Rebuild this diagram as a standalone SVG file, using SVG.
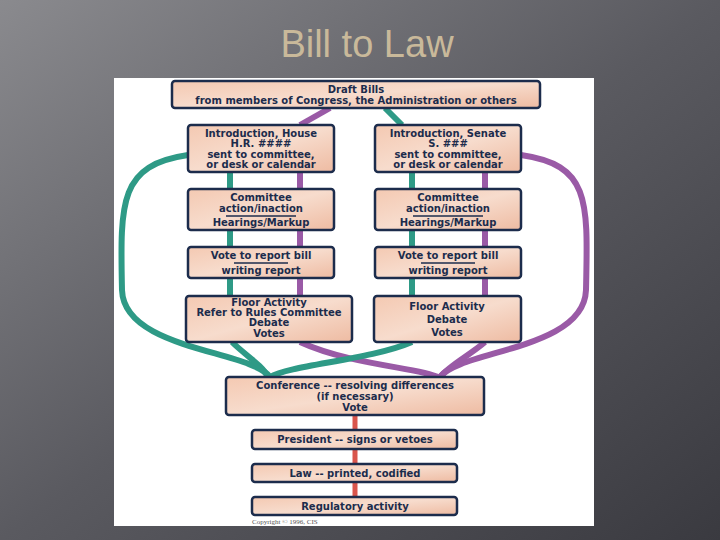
<svg xmlns="http://www.w3.org/2000/svg" width="720" height="540" viewBox="0 0 720 540">
<defs>
<linearGradient id="bg" x1="0" y1="0" x2="1" y2="1">
<stop offset="0" stop-color="#8a8a8e"/><stop offset="0.5" stop-color="#5a5a60"/><stop offset="1" stop-color="#3a3a40"/>
</linearGradient>
<linearGradient id="bx" x1="0" y1="0" x2="1" y2="1">
<stop offset="0" stop-color="#f4c9b2"/><stop offset="0.5" stop-color="#f7dccd"/><stop offset="1" stop-color="#eebba2"/>
</linearGradient>
</defs>
<style>
.b{fill:url(#bx);stroke:#1c2c4c;stroke-width:2.5}
.t{font-family:"DejaVu Sans",sans-serif;font-weight:bold;font-size:10px;fill:#1c2c4c;text-anchor:middle}
.g{fill:none;stroke:#2e9a86;stroke-width:6}
.p{fill:none;stroke:#9a5aa6;stroke-width:6}
.r{fill:none;stroke:#d9554c;stroke-width:5}
</style>
<rect width="720" height="540" fill="url(#bg)"/>
<text x="367" y="57" font-family="Liberation Sans,sans-serif" font-size="38" fill="#c9b99a" text-anchor="middle">Bill to Law</text>
<rect x="114" y="78" width="480" height="448" fill="#ffffff"/>
<g id="connectors">
<path class="p" d="M330 108 L300 125"/>
<path class="g" d="M385 108 L402 125"/>
<path class="g" d="M230 172 V296"/><path class="p" d="M300 172 V296"/>
<path class="g" d="M412 172 V296"/><path class="p" d="M485 172 V296"/>
<path class="g" d="M188 155 C120 165 120 200 122 290 C124 350 250 350 270 377"/>
<path class="p" d="M521 155 C590 165 588 200 586 290 C584 350 460 350 440 377"/>
<path class="g" d="M232 342 C245 355 262 365 268 377"/>
<path class="p" d="M300 342 C350 365 420 368 438 377"/>
<path class="g" d="M412 342 C370 360 290 365 270 377"/>
<path class="p" d="M485 342 C470 355 450 365 440 377"/>
<path class="r" d="M355 415 V430 M355 449 V464 M355 482 V497"/>
</g>
<g id="draft"><rect class="b" x="172" y="81" width="368" height="27" rx="3"/><text class="t" x="356" y="93">Draft Bills</text><text class="t" x="356" y="104">from members of Congress, the Administration or others</text></g>
<g id="house-intro"><rect class="b" x="188" y="125" width="146" height="47" rx="3"/><text class="t" x="261" y="137">Introduction, House</text><text class="t" x="261" y="147">H.R. ####</text><text class="t" x="261" y="158">sent to committee,</text><text class="t" x="261" y="168">or desk or calendar</text></g>
<g id="senate-intro"><rect class="b" x="375" y="125" width="146" height="47" rx="3"/><text class="t" x="448" y="137">Introduction, Senate</text><text class="t" x="448" y="147">S. ###</text><text class="t" x="448" y="158">sent to committee,</text><text class="t" x="448" y="168">or desk or calendar</text></g>
<g id="house-committee"><rect class="b" x="188" y="189" width="146" height="41" rx="3"/><text class="t" x="261" y="201">Committee</text><text class="t" x="261" y="212">action/inaction</text><line x1="226" y1="216" x2="296" y2="216" stroke="#1c2c4c" stroke-width="1.5"/><text class="t" x="261" y="226">Hearings/Markup</text></g>
<g id="senate-committee"><rect class="b" x="375" y="189" width="146" height="41" rx="3"/><text class="t" x="448" y="201">Committee</text><text class="t" x="448" y="212">action/inaction</text><line x1="413" y1="216" x2="483" y2="216" stroke="#1c2c4c" stroke-width="1.5"/><text class="t" x="448" y="226">Hearings/Markup</text></g>
<g id="house-vote"><rect class="b" x="188" y="247" width="146" height="31" rx="3"/><text class="t" x="261" y="259">Vote to report bill</text><line x1="234" y1="263" x2="288" y2="263" stroke="#1c2c4c" stroke-width="1.5"/><text class="t" x="261" y="274">writing report</text></g>
<g id="senate-vote"><rect class="b" x="375" y="247" width="146" height="31" rx="3"/><text class="t" x="448" y="259">Vote to report bill</text><line x1="421" y1="263" x2="475" y2="263" stroke="#1c2c4c" stroke-width="1.5"/><text class="t" x="448" y="274">writing report</text></g>
<g id="house-floor"><rect class="b" x="186" y="296" width="166" height="46" rx="3"/><text class="t" x="269" y="306">Floor Activity</text><text class="t" x="269" y="316">Refer to Rules Committee</text><text class="t" x="269" y="326">Debate</text><text class="t" x="269" y="337">Votes</text></g>
<g id="senate-floor"><rect class="b" x="374" y="296" width="147" height="46" rx="3"/><text class="t" x="447" y="310">Floor Activity</text><text class="t" x="447" y="323">Debate</text><text class="t" x="447" y="336">Votes</text></g>
<g id="conference"><rect class="b" x="226" y="377" width="258" height="38" rx="3"/><text class="t" x="355" y="389">Conference -- resolving differences</text><text class="t" x="355" y="400">(if necessary)</text><text class="t" x="355" y="411">Vote</text></g>
<g id="president"><rect class="b" x="252" y="430" width="205" height="19" rx="3"/><text class="t" x="355" y="443">President -- signs or vetoes</text></g>
<g id="law"><rect class="b" x="252" y="464" width="205" height="18" rx="3"/><text class="t" x="355" y="477">Law -- printed, codified</text></g>
<g id="regulatory"><rect class="b" x="252" y="497" width="205" height="18" rx="3"/><text class="t" x="355" y="510">Regulatory activity</text></g>
<text x="252" y="524" font-family="Liberation Serif,serif" font-size="7" fill="#555">Copyright © 1996, CIS</text>
</svg>
